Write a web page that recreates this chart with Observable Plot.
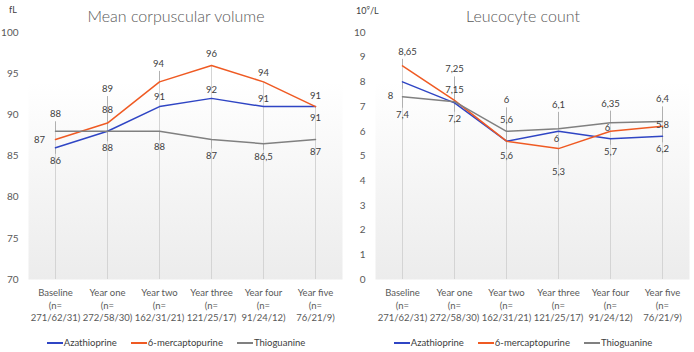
<!DOCTYPE html>
<html>
<head>
<meta charset="utf-8">
<script src="https://cdn.jsdelivr.net/npm/d3@7"></script>
<script src="https://cdn.jsdelivr.net/npm/@observablehq/plot@0.6"></script>
<style>
  html, body { margin: 0; padding: 0; background: #fff; }
  body { font-family: Lato, "Open Sans", sans-serif; color: #595959; }
  #wrap { position: relative; width: 694px; height: 352px; overflow: hidden; }
  .panel { position: absolute; top: 0; width: 347px; height: 352px; }
  .panel svg { position: absolute; left: 0; top: 0; }
  .title { position: absolute; top: 6px; left: 0; width: 352px; text-align: center; font-size: 16px; font-weight: 300; color: #595959; }
  .unit { position: absolute; top: 4px; left: 9px; font-size: 9px; color: #404040; }
  .legend { position: absolute; top: 337px; left: 0; width: 352px; display: flex; justify-content: center; font-size: 9.5px; color: #404040; }
  .legend span { display: inline-flex; align-items: center; margin: 0 7px; }
  .legend i { display: inline-block; width: 16px; height: 2px; margin-right: 1px; }
</style>
</head>
<body>
<div id="wrap">
  <div class="panel" id="left" style="left:0"></div>
  <div class="panel" id="right" style="left:347px"></div>
</div>
<script>
// Follow-up time points and group sizes (azathioprine / 6-MP / thioguanine)
const categories = ["Baseline", "Year one", "Year two", "Year three", "Year four", "Year five"];
const groupSizes = ["271/62/31", "272/58/30", "162/31/21", "121/25/17", "91/24/12", "76/21/9"];
const seriesNames = ["Azathioprine", "6-mercaptopurine", "Thioguanine"];
const seriesColors = ["#2f45c4", "#ef5a23", "#808080"];

// Mean corpuscular volume (fL)
const mcvAzathioprine = [86, 88, 91, 92, 91, 91];
const mcvMercaptopurine = [87, 89, 94, 96, 94, 91];
const mcvThioguanine = [88, 88, 88, 87, 86.5, 87];
const mcvTicks = [70, 75, 80, 85, 90, 95, 100];

// Leucocyte count (10^9/L)
const wbcAzathioprine = [8, 7.15, 5.6, 6, 5.7, 5.8];
const wbcMercaptopurine = [8.65, 7.25, 5.6, 5.3, 6, 6.2];
const wbcThioguanine = [7.4, 7.2, 6, 6.1, 6.35, 6.4];
const wbcTicks = [0, 1, 2, 3, 4, 5, 6, 7, 8, 9, 10];

// Data-label placement in pixels relative to each point ([dx, dy])
const mcvLabelOffsets = [
  [[0, 13], [0, -21], [0, -10], [0, -8], [0, -8], [0, 11]],
  [[-16, 0], [0, -34], [-1, -18], [0, -11], [0, -9], [0, -11]],
  [[0, -17], [0, 17], [0, 16], [0, 16], [0, 13], [0, 12]]
];
const wbcLabelOffsets = [
  [[-12, 14], [0, -13], [0, -21], [-2, 8], [0, 13], [0, -11]],
  [[5, -14], [0, -31], [0, 15], [0, 23], [-3, -3], [0, 23]],
  [[0, 18], [0, 17], [0, -31], [0, -24], [0, -19], [0, -22]]
];

const W = 347, H = 352, MT = 32, MB = 73, ML = 28, MR = 5;
const fmt = v => String(v).replace(".", ",");

function drawPanel(el, gid, {title, unit, domain, ticks, values, offsets}) {
  const k = (domain[1] - domain[0]) / (H - MT - MB); // data units per pixel
  const rows = [];
  values.forEach((vals, s) => vals.forEach((v, i) => {
    const [dx, dy] = offsets[s][i];
    rows.push({cat: categories[i], series: seriesNames[s], value: v, dx, dy, ly: v - dy * k});
  }));
  const tops = categories.map((c, i) => Math.max(...values.map(vals => vals[i])));
  const leaders = rows.filter(d => Math.abs(d.dy) > 12);
  const dxGroups = Array.from(new Set(rows.map(d => d.dx)));

  const chart = Plot.plot({
    width: W, height: H,
    marginTop: MT, marginBottom: MB, marginLeft: ML, marginRight: MR,
    style: {fontFamily: "Lato, sans-serif", fontSize: "10px", color: "#595959", background: "transparent"},
    x: {type: "point", domain: categories, padding: 0.5, axis: null},
    y: {domain, ticks, tickSize: 0, tickPadding: 10, label: null, tickFormat: d => d},
    color: {domain: seriesNames, range: seriesColors},
    marks: [
      Plot.frame({fill: `url(#${gid})`, stroke: "none"}),
      Plot.ruleX(categories, {x: d => d, y1: domain[0], y2: (d, i) => tops[i], stroke: "#d4d4d4", strokeWidth: 1}),
      Plot.link(leaders, {
        x1: "cat", x2: "cat", y1: "value",
        y2: d => d.value - (d.dy - Math.sign(d.dy) * 7) * k,
        stroke: "#b0b0b0", strokeWidth: 1
      }),
      Plot.line(rows, {x: "cat", y: "value", z: "series", stroke: "series", strokeWidth: 1.5}),
      ...dxGroups.map(dx => Plot.text(rows.filter(d => d.dx === dx), {
        x: "cat", y: "ly", dx, text: d => fmt(d.value), fill: "#404040", fontSize: 9.5
      })),
      Plot.text(categories, {
        x: d => d, frameAnchor: "bottom", dy: 8, lineAnchor: "top", lineHeight: 1.3,
        text: (d, i) => `${d}\n(n=\n${groupSizes[i]})`, fill: "#595959", fontSize: 9.5
      })
    ]
  });

  const ns = "http://www.w3.org/2000/svg";
  const defs = document.createElementNS(ns, "defs");
  const grad = document.createElementNS(ns, "linearGradient");
  grad.setAttribute("id", gid);
  grad.setAttribute("x1", "0"); grad.setAttribute("y1", "0");
  grad.setAttribute("x2", "0"); grad.setAttribute("y2", "1");
  [["0", "#ffffff"], ["0.2", "#ffffff"], ["1", "#ececec"]].forEach(([o, c]) => {
    const st = document.createElementNS(ns, "stop");
    st.setAttribute("offset", o); st.setAttribute("stop-color", c);
    grad.appendChild(st);
  });
  defs.appendChild(grad);
  chart.insertBefore(defs, chart.firstChild);
  el.appendChild(chart);

  const t = document.createElement("div");
  t.className = "title"; t.textContent = title; el.appendChild(t);
  const u = document.createElement("div");
  u.className = "unit"; u.innerHTML = unit; el.appendChild(u);
  const lg = document.createElement("div");
  lg.className = "legend";
  seriesNames.forEach((n, s) => {
    const sp = document.createElement("span");
    sp.innerHTML = `<i style="background:${seriesColors[s]}"></i>${n}`;
    lg.appendChild(sp);
  });
  el.appendChild(lg);
}

drawPanel(document.getElementById("left"), "gradMcv", {
  title: "Mean corpuscular volume", unit: "fL", domain: [70, 100], ticks: mcvTicks,
  values: [mcvAzathioprine, mcvMercaptopurine, mcvThioguanine], offsets: mcvLabelOffsets
});
drawPanel(document.getElementById("right"), "gradWbc", {
  title: "Leucocyte count", unit: "10<sup style=\"font-size:6px\">9</sup>/L", domain: [0, 10], ticks: wbcTicks,
  values: [wbcAzathioprine, wbcMercaptopurine, wbcThioguanine], offsets: wbcLabelOffsets
});
</script>
</body>
</html>
